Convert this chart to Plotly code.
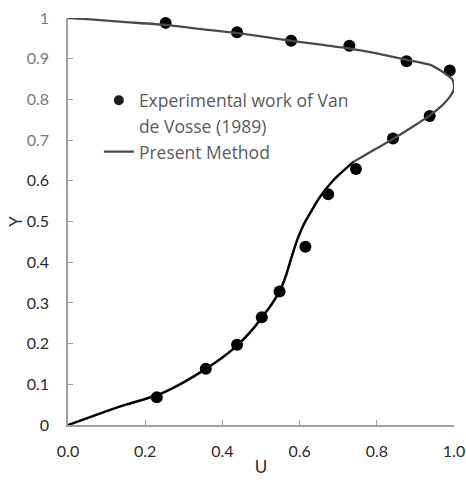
import plotly.graph_objects as go

# Experimental data (Van de Vosse 1989)
exp_u = [0.230, 0.357, 0.438, 0.502, 0.548, 0.615, 0.674, 0.746, 0.842, 0.937, 0.989, 0.877, 0.729, 0.578, 0.438, 0.253]
exp_y = [0.068, 0.138, 0.197, 0.265, 0.328, 0.438, 0.567, 0.629, 0.704, 0.759, 0.871, 0.894, 0.932, 0.944, 0.965, 0.988]

# Present method curve - lower part (black)
low_u = [0.0, 0.05, 0.10, 0.15, 0.23, 0.29, 0.357, 0.40, 0.44, 0.481, 0.50, 0.525, 0.55, 0.565, 0.58, 0.595, 0.612, 0.633, 0.654, 0.688, 0.74]
low_y = [0.0, 0.017, 0.034, 0.050, 0.073, 0.100, 0.138, 0.166, 0.197, 0.238, 0.262, 0.293, 0.332, 0.368, 0.415, 0.458, 0.495, 0.530, 0.562, 0.602, 0.647]

# Present method curve - upper part (grey)
up_u = [0.74, 0.80, 0.844, 0.90, 0.939, 0.970, 0.988, 0.998, 1.0, 0.995, 0.982, 0.96, 0.939, 0.878, 0.80, 0.731, 0.65, 0.578, 0.50, 0.438, 0.35, 0.253, 0.15, 0.05, 0.0]
up_y = [0.647, 0.680, 0.704, 0.737, 0.762, 0.786, 0.805, 0.820, 0.835, 0.850, 0.860, 0.874, 0.885, 0.897, 0.913, 0.925, 0.935, 0.944, 0.955, 0.963, 0.972, 0.983, 0.990, 0.997, 1.0]

x_ticks = [0.0, 0.2, 0.4, 0.6, 0.8, 1.0]
x_labels = ["0.0", "0.2", "0.4", "0.6", "0.8", "1.0"]
y_ticks = [0, 0.1, 0.2, 0.3, 0.4, 0.5, 0.6, 0.7, 0.8, 0.9, 1.0]
y_labels = ["0", "0.1", "0.2", "0.3", "0.4", "0.5", "0.6", "0.7", "0.8", "0.9", "1"]

GREY_TXT = "#7a7a7a"
DARK_TXT = "#2b2b2b"

y_text = []
for v, lab in zip(y_ticks, y_labels):
    col = GREY_TXT if v >= 0.7 else DARK_TXT
    y_text.append(f'<span style="color:{col}">{lab}</span>')

fig = go.Figure()

fig.add_trace(go.Scatter(
    x=exp_u, y=exp_y, mode="markers",
    marker=dict(color="black", size=12),
    showlegend=False, cliponaxis=False))

# legend-only entries
fig.add_trace(go.Scatter(
    x=[None], y=[None], mode="markers",
    marker=dict(color="#1a1a1a", size=10),
    name="Experimental work of Van", legendrank=1))

fig.add_trace(go.Scatter(
    x=[None], y=[None], mode="markers",
    marker=dict(color="rgba(0,0,0,0)", size=1),
    name="de Vosse (1989)", legendrank=2))

fig.add_trace(go.Scatter(
    x=low_u, y=low_y, mode="lines",
    line=dict(color="black", width=2.5, shape="spline", smoothing=0.6),
    showlegend=False, cliponaxis=False))

fig.add_trace(go.Scatter(
    x=up_u, y=up_y, mode="lines",
    line=dict(color="#4a4a4a", width=2.3, shape="spline", smoothing=0.5),
    name="Present Method", legendrank=3, cliponaxis=False))

fig.update_layout(
    width=466, height=481,
    margin=dict(l=68, r=12, t=18, b=56),
    paper_bgcolor="white", plot_bgcolor="white",
    font=dict(family="Lato, Carlito, sans-serif", size=16, color=DARK_TXT),
    showlegend=True,
    legend=dict(
        x=0.08, y=0.842, xanchor="left", yanchor="top",
        bgcolor="rgba(0,0,0,0)", borderwidth=0,
        font=dict(family="Open Sans, sans-serif", size=17.5, color="#5a5a5a"),
        tracegroupgap=0, itemwidth=30,
    ),
    xaxis=dict(
        range=[0, 1.0], tickvals=x_ticks, ticktext=x_labels,
        showgrid=False, zeroline=False, automargin=False,
        showline=True, linecolor="#a0a0a0", linewidth=1.5,
        ticks="inside", ticklen=5, tickcolor="#a0a0a0",
        ticklabelstandoff=11,
        title=dict(text="U", font=dict(size=17, color=DARK_TXT), standoff=2),
    ),
    yaxis=dict(
        range=[0, 1.0], tickvals=y_ticks, ticktext=y_text,
        showgrid=False, zeroline=False, automargin=False,
        showline=True, linecolor="#a0a0a0", linewidth=1.5,
        ticks="inside", ticklen=5, tickcolor="#a0a0a0",
        ticklabelstandoff=14,
        title=dict(text="Y", font=dict(size=17, color=DARK_TXT), standoff=0),
    ),
)

fig.write_html("out.html")
